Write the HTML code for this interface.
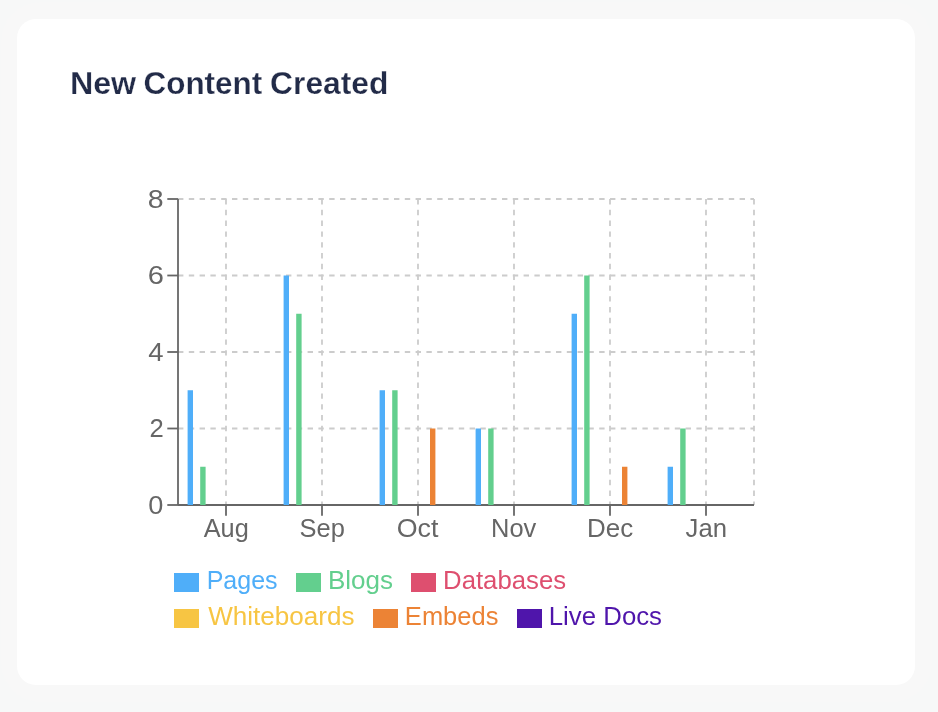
<!DOCTYPE html>
<html lang="en"><head><meta charset="utf-8"><title>New Content Created</title>
<style>
html,body{margin:0;padding:0}
body{width:938px;height:712px;overflow:hidden;background:#f7f8f8;position:relative;font-family:"Liberation Sans",sans-serif}
.ring{position:absolute;left:1px;top:2px;width:931px;height:700px;border-radius:40px;background:#f8f8f8}
.card{position:absolute;left:17px;top:19px;width:898px;height:666px;border-radius:19px;background:#fff}
svg{position:absolute;left:0;top:0}
text{font-family:"Liberation Sans",sans-serif}
.title{font-size:30.8px;font-weight:700;fill:#222b48;stroke:#fff;stroke-width:0.25px}
.ax{font-size:25px;fill:#666}
.leg{font-size:25px}
</style></head><body>
<div class="ring"></div><div class="card"></div>
<svg width="938" height="712" viewBox="0 0 938 712">
<g stroke="#ccc" stroke-width="1.8" stroke-dasharray="5.4 5.4" fill="none">
<line x1="178.0" y1="505.00" x2="754.0" y2="505.00"/>
<line x1="178.0" y1="428.50" x2="754.0" y2="428.50"/>
<line x1="178.0" y1="352.00" x2="754.0" y2="352.00"/>
<line x1="178.0" y1="275.50" x2="754.0" y2="275.50"/>
<line x1="178.0" y1="199.00" x2="754.0" y2="199.00"/>
<line x1="226.00" y1="199.00" x2="226.00" y2="505.0"/>
<line x1="322.00" y1="199.00" x2="322.00" y2="505.0"/>
<line x1="418.00" y1="199.00" x2="418.00" y2="505.0"/>
<line x1="514.00" y1="199.00" x2="514.00" y2="505.0"/>
<line x1="610.00" y1="199.00" x2="610.00" y2="505.0"/>
<line x1="706.00" y1="199.00" x2="706.00" y2="505.0"/>
<line x1="754.00" y1="199.00" x2="754.00" y2="505.0"/>
</g>
<g stroke="#666" stroke-width="1.8" fill="none">
<line x1="178.0" y1="505.0" x2="754.0" y2="505.0"/>
<line x1="178.0" y1="199.00" x2="178.0" y2="505.0"/>
<line x1="226.00" y1="505.0" x2="226.00" y2="515.70"/>
<line x1="322.00" y1="505.0" x2="322.00" y2="515.70"/>
<line x1="418.00" y1="505.0" x2="418.00" y2="515.70"/>
<line x1="514.00" y1="505.0" x2="514.00" y2="515.70"/>
<line x1="610.00" y1="505.0" x2="610.00" y2="515.70"/>
<line x1="706.00" y1="505.0" x2="706.00" y2="515.70"/>
<line x1="167.30" y1="505.00" x2="178.0" y2="505.00"/>
<line x1="167.30" y1="428.50" x2="178.0" y2="428.50"/>
<line x1="167.30" y1="352.00" x2="178.0" y2="352.00"/>
<line x1="167.30" y1="275.50" x2="178.0" y2="275.50"/>
<line x1="167.30" y1="199.00" x2="178.0" y2="199.00"/>
</g>
<rect x="187.60" y="390.25" width="5.4" height="114.75" fill="#4faef9"/>
<rect x="200.20" y="466.75" width="5.4" height="38.25" fill="#63cf8e"/>
<rect x="283.60" y="275.50" width="5.4" height="229.50" fill="#4faef9"/>
<rect x="296.20" y="313.75" width="5.4" height="191.25" fill="#63cf8e"/>
<rect x="379.60" y="390.25" width="5.4" height="114.75" fill="#4faef9"/>
<rect x="392.20" y="390.25" width="5.4" height="114.75" fill="#63cf8e"/>
<rect x="430.00" y="428.50" width="5.4" height="76.50" fill="#ec8335"/>
<rect x="475.60" y="428.50" width="5.4" height="76.50" fill="#4faef9"/>
<rect x="488.20" y="428.50" width="5.4" height="76.50" fill="#63cf8e"/>
<rect x="571.60" y="313.75" width="5.4" height="191.25" fill="#4faef9"/>
<rect x="584.20" y="275.50" width="5.4" height="229.50" fill="#63cf8e"/>
<rect x="622.00" y="466.75" width="5.4" height="38.25" fill="#ec8335"/>
<rect x="667.60" y="466.75" width="5.4" height="38.25" fill="#4faef9"/>
<rect x="680.20" y="428.50" width="5.4" height="76.50" fill="#63cf8e"/>
<rect x="174" y="573" width="25" height="19" fill="#4faef9"/>
<rect x="296" y="573" width="25" height="19" fill="#63cf8e"/>
<rect x="411" y="573" width="25" height="19" fill="#de4f6f"/>
<rect x="174" y="609" width="25" height="19" fill="#f7c543"/>
<rect x="373" y="609" width="25" height="19" fill="#ec8335"/>
<rect x="517" y="609" width="25" height="19" fill="#4f15ab"/>
<text class="title" y="93.8"><tspan x="69.91" textLength="66.28" lengthAdjust="spacingAndGlyphs">New</tspan> <tspan x="143.51" textLength="118.67" lengthAdjust="spacingAndGlyphs">Content</tspan> <tspan x="270.12" textLength="118.35" lengthAdjust="spacingAndGlyphs">Created</tspan></text>
<text class="ax" x="203.67" y="536.9" textLength="45.07" lengthAdjust="spacingAndGlyphs">Aug</text>
<text class="ax" x="299.54" y="536.9" textLength="45.25" lengthAdjust="spacingAndGlyphs">Sep</text>
<text class="ax" x="396.70" y="536.9" textLength="41.68" lengthAdjust="spacingAndGlyphs">Oct</text>
<text class="ax" x="491.07" y="536.9" textLength="45.24" lengthAdjust="spacingAndGlyphs">Nov</text>
<text class="ax" x="587.05" y="536.9" textLength="46.14" lengthAdjust="spacingAndGlyphs">Dec</text>
<text class="ax" x="685.62" y="536.9" textLength="41.42" lengthAdjust="spacingAndGlyphs">Jan</text>
<text class="leg" x="206.66" y="589.0" textLength="70.92" lengthAdjust="spacingAndGlyphs" fill="#4faef9">Pages</text>
<text class="leg" x="327.90" y="589.0" textLength="65.13" lengthAdjust="spacingAndGlyphs" fill="#63cf8e">Blogs</text>
<text class="leg" x="443.05" y="589.0" textLength="123.05" lengthAdjust="spacingAndGlyphs" fill="#de4f6f">Databases</text>
<text class="leg" x="208.28" y="625.0" textLength="146.24" lengthAdjust="spacingAndGlyphs" fill="#f7c543">Whiteboards</text>
<text class="leg" x="404.88" y="625.0" textLength="93.55" lengthAdjust="spacingAndGlyphs" fill="#ec8335">Embeds</text>
<text class="leg" y="625.0" fill="#4f15ab"><tspan x="548.77" textLength="47.32" lengthAdjust="spacingAndGlyphs">Live</tspan> <tspan x="603.28" textLength="58.76" lengthAdjust="spacingAndGlyphs">Docs</tspan></text>
<text class="ax" x="148.35" y="514.0" textLength="15.10" lengthAdjust="spacingAndGlyphs">0</text>
<text class="ax" x="149.53" y="437.0" textLength="14.24" lengthAdjust="spacingAndGlyphs">2</text>
<text class="ax" x="148.23" y="361.0" textLength="15.29" lengthAdjust="spacingAndGlyphs">4</text>
<text class="ax" x="147.66" y="284.0" textLength="16.16" lengthAdjust="spacingAndGlyphs">6</text>
<text class="ax" x="147.74" y="208.0" textLength="15.85" lengthAdjust="spacingAndGlyphs">8</text>
</svg></body></html>
